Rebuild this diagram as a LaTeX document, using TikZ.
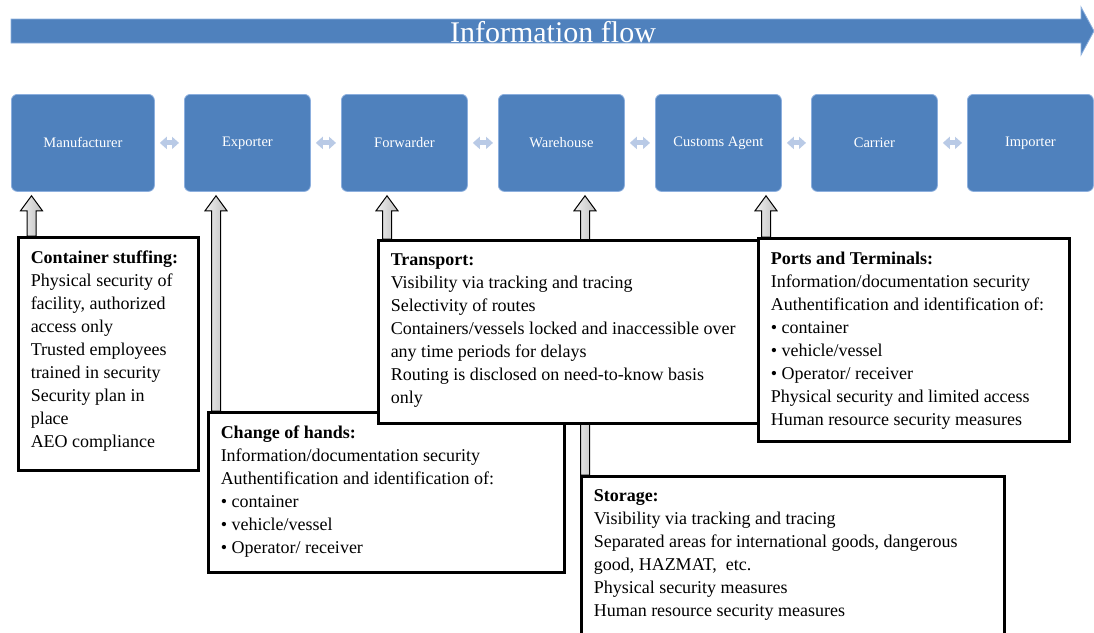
\documentclass[tikz,border=0pt]{standalone}
\usepackage{fontspec}
\setmainfont{Liberation Serif}
\usetikzlibrary{arrows.meta}
\definecolor{stageblue}{RGB}{79,129,189}
\definecolor{stageedge}{RGB}{140,175,222}
\definecolor{linkblue}{RGB}{185,202,230}
\pgfdeclarelayer{back}
\pgfsetlayers{back,main}

% hollow block arrow from a measure box (#2) up to a supply-chain stage (#3), at x = #1
\newcommand\securityfeed[3]{%
  \path (#1,0) coordinate (x-#2);
  \coordinate (base-#2) at (#2.north -| x-#2);
  \coordinate (tip-#2) at ([yshift=-4pt]#3.south -| x-#2);
  \draw[feedarrow] ([xshift=-4.5pt]base-#2) -- ([shift={(-4.5,15)}]tip-#2)
    -- ([shift={(-11,15)}]tip-#2) -- (tip-#2) -- ([shift={(11,15)}]tip-#2)
    -- ([shift={(4.5,15)}]tip-#2) -- ([xshift=4.5pt]base-#2) -- cycle;}

\begin{document}
\begin{tikzpicture}[x=1pt,y=-1pt,
  stage/.style={draw=stageedge, line width=0.8pt, fill=stageblue, rounded corners=6pt,
    minimum height=97pt, text=white, font=\fontsize{14.5}{16}\selectfont,
    inner sep=0pt, anchor=north west},
  infobox/.style={draw=black, line width=2.5pt, fill=white, anchor=north west,
    inner xsep=12.5pt, inner ysep=13.5pt, font=\fontsize{18}{23}\selectfont},
  feedarrow/.style={draw=black, line width=1pt, left color=gray!12, right color=gray!50},
  link/.style={draw=linkblue, line width=5pt, shorten <=5pt, shorten >=5pt,
    {Triangle[length=7pt,width=12pt]}-{Triangle[length=7pt,width=12pt]}}
]
\clip (0,0) rectangle (1094,632);

% information flow banner
\path[draw=stageedge, line width=0.8pt, fill=stageblue]
  (11,19) -- (1081,19) -- (1081,7) -- (1094,31) -- (1081,55) -- (1081,43) -- (11,43) -- cycle;
\node[text=white, font=\fontsize{30}{30}\selectfont, inner sep=0pt] (flow) at (553,32) {Information flow};

% supply-chain stages
\node[stage, minimum width=143pt] (mfr) at (11,94)  {Manufacturer};
\node[stage, minimum width=126pt] (exp) at (184,94) {Exporter};
\node[stage, minimum width=126pt] (fwd) at (341,94) {Forwarder};
\node[stage, minimum width=126pt] (wh)  at (498,94) {Warehouse};
\node[stage, minimum width=126pt] (ca)  at (655,94) {Customs Agent};
\node[stage, minimum width=126pt] (car) at (811,94) {Carrier};
\node[stage, minimum width=126pt] (imp) at (967,94) {Importer};

\draw[link] (mfr) -- (exp);
\draw[link] (exp) -- (fwd);
\draw[link] (fwd) -- (wh);
\draw[link] (wh) -- (ca);
\draw[link] (ca) -- (car);
\draw[link] (car) -- (imp);

% security measures
\node[infobox] (cs) at (17,236) {\parbox[c][206pt][t]{155pt}{%
  \textbf{Container stuffing:}\\
  Physical security of\\
  facility, authorized\\
  access only\\
  Trusted employees\\
  trained in security\\
  Security plan in\\
  place\\
  AEO compliance}};

\node[infobox] (coh) at (207,411) {\parbox[c][133pt][t]{331pt}{%
  \textbf{Change of hands:}\\
  Information/documentation security\\
  Authentification and identification of:\\
  • container\\
  • vehicle/vessel\\
  • Operator/ receiver}};

\node[infobox] (tr) at (377,239) {\parbox[c][156pt][t]{355pt}{%
  \textbf{Transport:}\\
  Visibility via tracking and tracing\\
  Selectivity of routes\\
  Containers/vessels locked and inaccessible over\\
  any time periods for delays\\
  Routing is disclosed on need-to-know basis\\
  only}};

\node[infobox] (pt) at (757,237) {\parbox[c][176pt][t]{286pt}{%
  \textbf{Ports and Terminals:}\\
  Information/documentation security\\
  Authentification and identification of:\\
  • container\\
  • vehicle/vessel\\
  • Operator/ receiver\\
  Physical security and limited access\\
  Human resource security measures}};

\node[infobox] (st) at (580,475) {\parbox[c][173pt][t]{398pt}{%
  \textbf{Storage:}\\
  Visibility via tracking and tracing\\
  Separated areas for international goods, dangerous\\
  good, HAZMAT,\ \ etc.\\
  Physical security measures\\
  Human resource security measures}};

\begin{pgfonlayer}{back}
  \securityfeed{31.5}{cs}{mfr}
  \securityfeed{216}{coh}{exp}
  \securityfeed{387}{tr}{fwd}
  \securityfeed{585}{st}{wh}
  \securityfeed{766}{pt}{ca}
\end{pgfonlayer}
\end{tikzpicture}
\end{document}
